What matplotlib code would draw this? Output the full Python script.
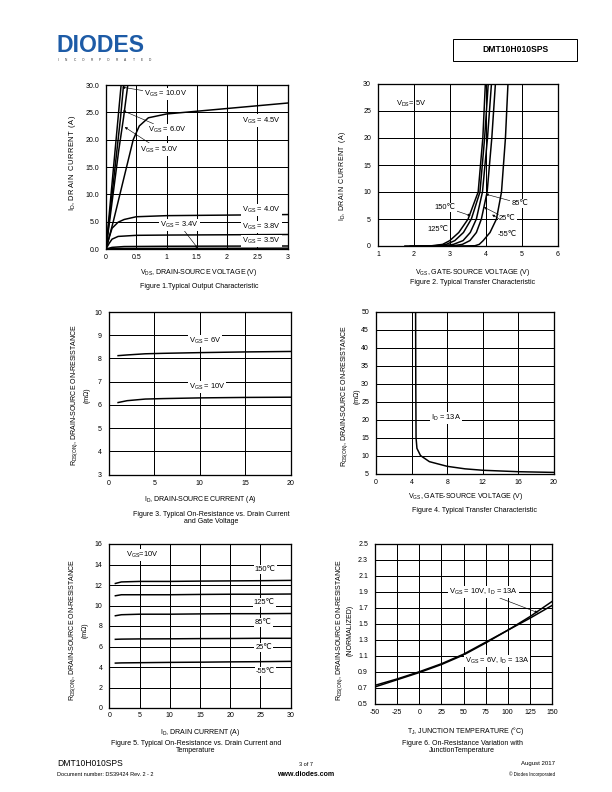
import numpy as np
import matplotlib.pyplot as plt

plt.rcParams['font.family'] = ['Liberation Sans', 'DejaVu Sans']
plt.rcParams['mathtext.default'] = 'regular'
plt.rcParams['axes.unicode_minus'] = False

# ---- Figure 1 data: output characteristic (VDS, ID) ----
f1_vds_10 = [0, 0.05, 0.1, 0.15, 0.2, 0.25]
f1_id_10 = [0, 6, 12, 18, 24, 30]
f1_vds_6 = [0, 0.06, 0.12, 0.18, 0.24, 0.29]
f1_id_6 = [0, 6, 12, 18, 24, 30]
f1_vds_5 = [0, 0.07, 0.14, 0.21, 0.29, 0.36]
f1_id_5 = [0, 6, 12, 18, 24, 30]
f1_vds_45 = [0, 0.12, 0.23, 0.34, 0.45, 0.55, 0.7, 1.0, 1.5, 2.0, 2.5, 3.0]
f1_id_45 = [0, 5, 10, 15, 20, 22.5, 24.0, 24.7, 25.2, 25.7, 26.2, 26.7]
f1_vds_40 = [0, 0.05, 0.1, 0.2, 0.3, 0.5, 1.0, 2.0, 3.0]
f1_id_40 = [0, 2.0, 3.8, 4.9, 5.4, 5.9, 6.1, 6.2, 6.3]
f1_vds_38 = [0, 0.05, 0.1, 0.2, 0.5, 1.0, 2.0, 3.0]
f1_id_38 = [0, 1.0, 1.8, 2.3, 2.5, 2.55, 2.6, 2.65]
f1_vds_35 = [0, 0.1, 0.3, 1.0, 3.0]
f1_id_35 = [0, 0.3, 0.45, 0.5, 0.55]
f1_vds_34 = [0, 0.2, 3.0]
f1_id_34 = [0, 0.1, 0.15]

# ---- Figure 2 data: transfer characteristic (VGS, ID) ----
f2_id = [0, 0.05, 0.3, 1, 2.5, 5, 10, 20, 30]
f2_vgs_150 = [1.75, 2.5, 2.8, 3.0, 3.25, 3.51, 3.79, 3.92, 3.99]
f2_vgs_125 = [1.9, 2.6, 2.9, 3.14, 3.38, 3.6, 3.84, 3.97, 4.07]
f2_vgs_85 = [2.2, 2.8, 3.1, 3.37, 3.57, 3.74, 3.91, 4.05, 4.16]
f2_vgs_25 = [2.6, 3.1, 3.35, 3.56, 3.74, 3.88, 4.04, 4.17, 4.27]
f2_vgs_m55 = [3.2, 3.7, 3.82, 3.93, 4.12, 4.3, 4.44, 4.55, 4.62]

# ---- Figure 3 data: RDS(ON) vs ID ----
f3_id = [1, 2, 4, 6, 10, 15, 20]
f3_r_6v = [8.12, 8.15, 8.2, 8.22, 8.25, 8.28, 8.3]
f3_r_10v = [6.1, 6.18, 6.25, 6.27, 6.3, 6.32, 6.33]

# ---- Figure 4 data: RDS(ON) vs VGS ----
f4_vgs = [4.45, 4.47, 4.5, 4.6, 5.0, 6.0, 8.0, 10.0, 12.0, 16.0, 20.0]
f4_r = [50, 30, 15, 12, 10, 8.3, 7.0, 6.3, 5.9, 5.5, 5.3]

# ---- Figure 5 data: RDS(ON) vs ID and temperature ----
f5_id = [1, 2, 5, 10, 15, 20, 25, 30]
f5_r_150 = [12.15, 12.3, 12.35, 12.35, 12.38, 12.4, 12.42, 12.45]
f5_r_125 = [10.95, 11.05, 11.05, 11.05, 11.08, 11.1, 11.1, 11.12]
f5_r_85 = [9.0, 9.1, 9.15, 9.15, 9.18, 9.2, 9.2, 9.22]
f5_r_25 = [6.7, 6.72, 6.74, 6.75, 6.77, 6.78, 6.8, 6.8]
f5_r_m55 = [4.38, 4.4, 4.42, 4.45, 4.47, 4.5, 4.52, 4.55]

# ---- Figure 6 data: normalized RDS(ON) vs TJ ----
f6_tj = [-50, -25, 0, 25, 50, 75, 100, 125, 150]
f6_r_10v = [0.73, 0.81, 0.9, 1.0, 1.12, 1.27, 1.42, 1.59, 1.78]
f6_r_6v = [0.71, 0.8, 0.89, 0.99, 1.11, 1.26, 1.42, 1.57, 1.73]

W, H = 612, 792
fig = plt.figure(figsize=(W / 72, H / 72), dpi=72)
fig.patch.set_facecolor('white')

FS = 7      # captions, axis labels, ticks
FL = 7.5    # labels inside plots


def add_ax(l, t, r, b):
    return fig.add_axes([l / W, 1 - b / H, (r - l) / W, (b - t) / H])


def txt(x, y, s, **kw):
    kw.setdefault('fontsize', FS)
    kw.setdefault('ha', 'center')
    kw.setdefault('va', 'center')
    fig.text(x / W, 1 - y / H, s, **kw)


def spaced(s, sep='\u200a'):
    return sep.join(s)


def setup(ax, xlim, ylim, xt, yt, xtl=None, ytl=None, xpad=5, ypad=7):
    ax.set_xlim(xlim)
    ax.set_ylim(ylim)
    ax.set_xticks(xt)
    ax.set_yticks(yt)
    if xtl is not None:
        ax.set_xticklabels(xtl)
    if ytl is not None:
        ax.set_yticklabels(ytl)
    ax.grid(True, color='black', lw=1.0)
    ax.set_axisbelow(True)
    ax.tick_params(axis='both', length=0, labelsize=FS)
    ax.tick_params(axis='x', pad=xpad)
    ax.tick_params(axis='y', pad=ypad)
    for s in ax.spines.values():
        s.set_linewidth(1.3)


box = dict(facecolor='white', edgecolor='none', pad=1)
arw = dict(arrowstyle='-|>', lw=0.6, color='black', mutation_scale=5,
           shrinkA=0, shrinkB=0)
LW = 1.5

# ---------------- Figure 1 ----------------
ax1 = add_ax(106, 85, 287.5, 249)
for x, y in [(f1_vds_10, f1_id_10), (f1_vds_6, f1_id_6), (f1_vds_5, f1_id_5),
             (f1_vds_45, f1_id_45), (f1_vds_40, f1_id_40), (f1_vds_38, f1_id_38),
             (f1_vds_35, f1_id_35), (f1_vds_34, f1_id_34)]:
    ax1.plot(x, y, color='black', lw=LW)
setup(ax1, (0, 3), (0, 30), [0, 0.5, 1, 1.5, 2, 2.5, 3], np.arange(0, 31, 5),
      xtl=['0', '0.5', '1', '1.5', '2', '2.5', '3'],
      ytl=['%.1f' % v for v in np.arange(0, 31, 5)])
ax1.annotate(r'V$_{GS}$ = 10.0V', xy=(0.27, 29.6), xytext=(0.98, 28.3),
             fontsize=FL, ha='center', va='center', bbox=box, arrowprops=arw)
ax1.annotate(r'V$_{GS}$ = 6.0V', xy=(0.28, 25.3), xytext=(1.02, 21.8),
             fontsize=FL, ha='center', va='center', bbox=box, arrowprops=arw)
ax1.annotate(r'V$_{GS}$ = 5.0V', xy=(0.31, 22.3), xytext=(0.88, 18.2),
             fontsize=FL, ha='center', va='center', bbox=box, arrowprops=arw)
ax1.annotate(r'V$_{GS}$ = 3.4V', xy=(1.52, 0.1), xytext=(1.22, 4.4),
             fontsize=FL, ha='center', va='center', bbox=box, arrowprops=arw)
for s, y in [('4.5V', 23.5), ('4.0V', 7.2), ('3.8V', 4.1), ('3.5V', 1.4)]:
    ax1.text(2.57, y, r'V$_{GS}$ = ' + s, fontsize=FL, ha='center', va='center',
             bbox=box)
txt(72, 163, r'I$_D$,' + spaced(' DRAIN CURRENT (A)'), rotation=90, fontsize=7.5)
txt(199, 272, r'V$_{DS}$, DRAIN-SOURCE VOLTAGE (V)')
txt(199, 287, 'Figure 1.Typical Output Characteristic')

# ---------------- Figure 2 ----------------
ax2 = add_ax(378, 84, 557.5, 246)
for v in [f2_vgs_150, f2_vgs_125, f2_vgs_85, f2_vgs_25, f2_vgs_m55]:
    ax2.plot(v, f2_id, color='black', lw=LW)
setup(ax2, (1, 6), (0, 30), [1, 2, 3, 4, 5, 6], np.arange(0, 31, 5))
ax2.text(1.5, 26.3, r'V$_{DS}$= 5V', fontsize=FL, ha='left', va='center')
ax2.annotate('150\u2103', xy=(3.58, 5.6), xytext=(2.87, 7.2), fontsize=FL,
             ha='center', va='center', bbox=box, arrowprops=arw)
ax2.annotate('85\u2103', xy=(4.0, 9.6), xytext=(4.95, 7.9), fontsize=FL,
             ha='center', va='center', bbox=box, arrowprops=arw)
ax2.annotate('25\u2103', xy=(3.95, 7.2), xytext=(4.6, 5.0), fontsize=FL,
             ha='center', va='center', bbox=box, arrowprops=arw)
ax2.annotate('', xy=(4.18, 5.8), xytext=(4.38, 5.0), arrowprops=arw)
ax2.text(2.68, 3.1, '125\u2103', fontsize=FL, ha='center', va='center', bbox=box)
ax2.text(4.6, 2.2, '-55\u2103', fontsize=FL, ha='center', va='center', bbox=box)
txt(342, 176, r'I$_D$,' + spaced(' DRAIN CURRENT (A)'), rotation=90)
txt(473, 272, r'V$_{GS}$, GATE-SOURCE VOLTAGE (V)')
txt(473, 283, 'Figure 2. Typical Transfer Characteristic')

# ---------------- Figure 3 ----------------
ax3 = add_ax(109, 312, 290.5, 474.5)
ax3.plot(f3_id, f3_r_6v, color='black', lw=LW)
ax3.plot(f3_id, f3_r_10v, color='black', lw=LW)
setup(ax3, (0, 20), (3, 10), [0, 5, 10, 15, 20], np.arange(3, 11, 1))
ax3.text(10.6, 8.75, r'V$_{GS}$ = 6V', fontsize=FL, ha='center', va='center',
         bbox=box)
ax3.text(10.8, 6.78, r'V$_{GS}$ = 10V', fontsize=FL, ha='center', va='center',
         bbox=box)
txt(80, 395, 'R$_{DS(ON)}$, DRAIN-SOURCE ON-RESISTANCE\n(m\u03a9)', rotation=90,
    multialignment='center', linespacing=1.6)
txt(200, 500, r'I$_D$, DRAIN-SOURCE CURRENT (A)')
txt(211, 518, 'Figure 3. Typical On-Resistance vs. Drain Current\nand Gate Voltage',
    multialignment='center', linespacing=1.15)

# ---------------- Figure 4 ----------------
ax4 = add_ax(376, 312, 554, 473.5)
ax4.plot(f4_vgs, f4_r, color='black', lw=LW)
setup(ax4, (0, 20), (5, 50), [0, 4, 8, 12, 16, 20], np.arange(5, 51, 5))
ax4.text(7.9, 20.4, r'I$_D$ = 13A', fontsize=FL, ha='center', va='center', bbox=box)
txt(350, 396, 'R$_{DS(ON)}$, DRAIN-SOURCE ON-RESISTANCE\n(m\u03a9)', rotation=90,
    multialignment='center', linespacing=1.6)
txt(466, 497, r'V$_{GS}$, GATE-SOURCE VOLTAGE (V)')
txt(475, 511, 'Figure 4. Typical Transfer Characteristic')

# ---------------- Figure 5 ----------------
ax5 = add_ax(109.3, 544, 290.7, 708)
for r in [f5_r_150, f5_r_125, f5_r_85, f5_r_25, f5_r_m55]:
    ax5.plot(f5_id, r, color='black', lw=LW)
setup(ax5, (0, 30), (0, 16), [0, 5, 10, 15, 20, 25, 30], np.arange(0, 17, 2),
      xpad=4)
ax5.text(5.5, 14.9, r'V$_{GS}$=10V', fontsize=FL, ha='center', va='center', bbox=box)
for s, x, y in [('150\u2103', 25.8, 13.5), ('125\u2103', 25.6, 10.3),
                ('85\u2103', 25.5, 8.3), ('25\u2103', 25.5, 5.9),
                ('-55\u2103', 25.8, 3.6)]:
    ax5.text(x, y, s, fontsize=FL, ha='center', va='center', bbox=box)
txt(78, 630, 'R$_{DS(ON)}$, DRAIN-SOURCE ON-RESISTANCE\n(m\u03a9)', rotation=90,
    multialignment='center', linespacing=1.6)
txt(200, 733, r'I$_D$, DRAIN CURRENT (A)')
txt(196, 747, 'Figure 5. Typical On-Resistance vs. Drain Current and\nTemperature',
    multialignment='center', linespacing=1.15)

# ---------------- Figure 6 ----------------
ax6 = add_ax(375, 544, 552, 703.7)
ax6.plot(f6_tj, f6_r_10v, color='black', lw=LW)
ax6.plot(f6_tj, f6_r_6v, color='black', lw=LW)
setup(ax6, (-50, 150), (0.5, 2.5), np.arange(-50, 151, 25),
      np.round(np.arange(0.5, 2.51, 0.2), 1), xpad=5,
      ytl=['%.1f' % v for v in np.arange(0.5, 2.51, 0.2)])
ax6.annotate(r'V$_{GS}$ = 10V, I$_D$ = 13A', xy=(134, 1.64), xytext=(73, 1.9),
             fontsize=FL, ha='center', va='center', bbox=box, arrowprops=arw)
ax6.text(88, 1.04, r'V$_{GS}$ = 6V, I$_D$ = 13A', fontsize=FL, ha='center',
         va='center', bbox=box)
txt(344, 630, 'R$_{DS(ON)}$, DRAIN-SOURCE ON-RESISTANCE\n(NORMALIZED)', rotation=90,
    multialignment='center', linespacing=1.3)
txt(466, 731, 'T$_J$, JUNCTION TEMPERATURE (\u00b0C)')
txt(462, 747, 'Figure 6. On-Resistance Variation with\nJunctionTemperature',
    multialignment='center', linespacing=1.15)

# ---------------- header / footer ----------------
txt(101, 46, 'DIODES', fontsize=23, fontweight='bold', color='#1d5ba6')
for i, ch in enumerate('INCORPORATED'):
    txt(58 + i * 8.4, 60, ch, fontsize=3.2, color='#333333')
fig.patches.append(plt.Rectangle((453 / W, 1 - 61 / H), 124 / W, 22 / H,
                                 transform=fig.transFigure, fill=False,
                                 edgecolor='black', lw=1.0))
txt(515, 50, 'DMT10H010SPS', fontsize=8.5, fontweight='bold')

txt(57, 764, 'DMT10H010SPS', fontsize=8.5, ha='left')
txt(57, 775, 'Document number: DS39424 Rev. 2 - 2', fontsize=5.5, ha='left')
txt(306, 764, '3 of 7', fontsize=5.5)
txt(306, 774, 'www.diodes.com', fontsize=7, fontweight='bold')
txt(555, 764, 'August 2017', fontsize=6, ha='right')
txt(555, 774, '\u00a9 Diodes Incorporated', fontsize=4.5, ha='right')

fig.savefig('out.png', dpi=72, facecolor='white')
